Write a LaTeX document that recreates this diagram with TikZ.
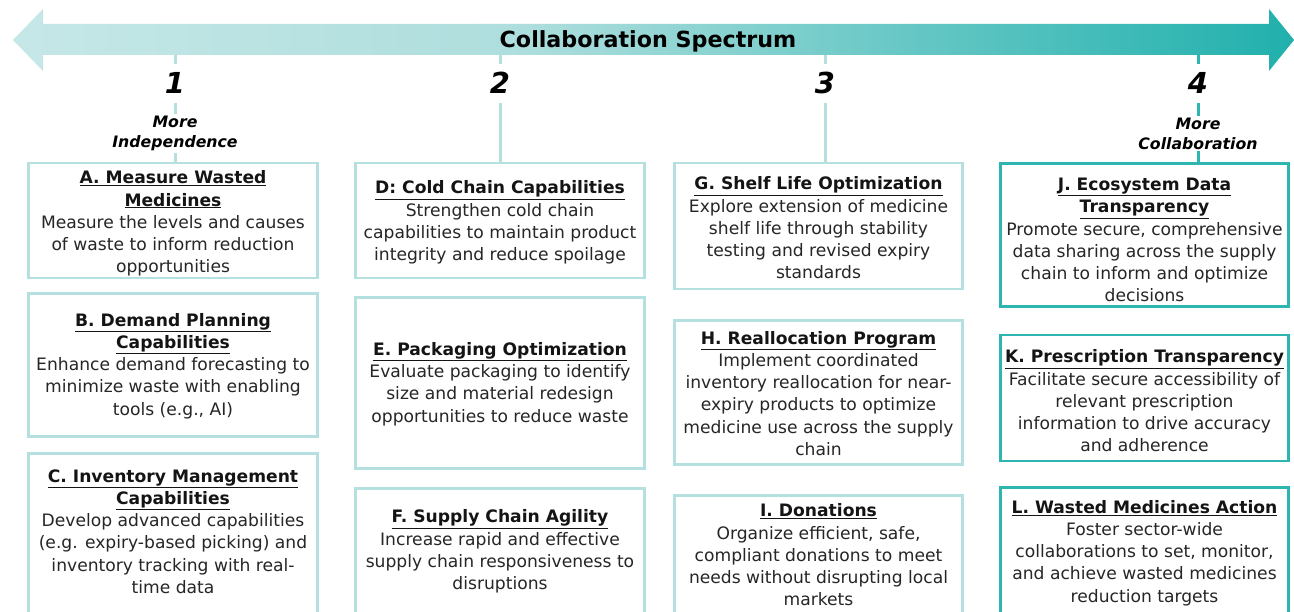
\documentclass[tikz,border=0pt]{standalone}
\usepackage{fontspec}
\setmainfont{DejaVu Sans}

\definecolor{lightteal}{HTML}{B5E0E0}
\definecolor{darkteal}{HTML}{2DB5B1}
\definecolor{bodytext}{HTML}{262626}
\definecolor{headtext}{HTML}{141414}
\definecolor{specA}{HTML}{C6E7E7}
\definecolor{specB}{HTML}{ADDEDD}
\definecolor{specC}{HTML}{20B0AD}
% TikZ maps a path onto the 25bp..75bp band of a 100bp shading
\pgfdeclarehorizontalshading{spectrum}{100bp}{color(0bp)=(specA); color(25bp)=(specA);
  color(45bp)=(specB); color(75bp)=(specC); color(100bp)=(specC)}

\newcommand{\cardhead}[1]{{\color{headtext}\bfseries\underline{#1}}}

\tikzset{
  card/.style={draw=lightteal, line width=2.5bp, fill=white, inner sep=0pt},
  keycard/.style={card, draw=darkteal},
  cardtext/.style={align=center, text=bodytext, inner sep=0pt,
    font=\fontsize{17.2}{22.3}\selectfont},
  tick/.style={draw=lightteal, line width=3bp},
  keytick/.style={tick, draw=darkteal},
  stepnum/.style={fill=white, inner xsep=4bp, inner ysep=9bp,
    font=\fontsize{29}{30}\selectfont\bfseries\itshape},
  endlabel/.style={fill=white, align=center, inner xsep=3bp, inner ysep=2bp,
    font=\fontsize{15.8}{20}\selectfont\bfseries\itshape}
}

\begin{document}
\begin{tikzpicture}[x=1bp, y=-1bp]
\clip (0,0) rectangle (1294,612);
\fill[white] (0,0) rectangle (1294,612);

% double-headed spectrum arrow
\shade[shading=spectrum]
  (13,40) -- (43,9) -- (43,24) -- (1269,24) -- (1269,9) -- (1294,40)
  -- (1269,71) -- (1269,55) -- (43,55) -- (43,71) -- cycle;
\node[anchor=base, font=\fontsize{22.3}{24}\selectfont\bfseries] (title)
  at (648,48) {Collaboration Spectrum};

% anchor points of the ticks on the arrow
\coordinate (t1) at (175,55);
\coordinate (t2) at (500,55);
\coordinate (t3) at (825,55);
\coordinate (t4) at (1198,55);

% column 1
\node[card, minimum width=290, minimum height=115] (boxA) at (173,220.5) {};
\node[card, minimum width=290, minimum height=144] (boxB) at (173,365) {};
\node[card, minimum width=290, minimum height=187] (boxC) at (173,546.5) {};
% column 2
\node[card, minimum width=290, minimum height=115] (boxD) at (500,220.5) {};
\node[card, minimum width=290, minimum height=172] (boxE) at (500,383) {};
\node[card, minimum width=290, minimum height=152] (boxF) at (500,564) {};
% column 3
\node[card, minimum width=289, minimum height=126] (boxG) at (818.5,226) {};
\node[card, minimum width=289, minimum height=145] (boxH) at (818.5,392.5) {};
\node[card, minimum width=289, minimum height=145] (boxI) at (818.5,567.5) {};
% column 4
\node[keycard, minimum width=289, minimum height=144] (boxJ) at (1144.5,235) {};
\node[keycard, minimum width=289, minimum height=126] (boxK) at (1144.5,398) {};
\node[keycard, minimum width=289, minimum height=153] (boxL) at (1144.5,563.5) {};

% ticks from the arrow down to the first card of each column
\draw[tick] (t1) -- (t1 |- boxA.north);
\draw[tick] (t2) -- (t2 |- boxD.north);
\draw[tick] (t3) -- (t3 |- boxG.north);
\draw[keytick] (t4) -- (t4 |- boxJ.north);

% step numbers and end labels
\node[stepnum, anchor=base] (n1) at (175,94) {1};
\node[stepnum, anchor=base] (n2) at (500,94) {2};
\node[stepnum, anchor=base] (n3) at (825,94) {3};
\node[stepnum, anchor=base] (n4) at (1198,94) {4};
\node[endlabel] (indep) at (175,133.5) {More\\Independence};
\node[endlabel] (collab) at (1198,133.5) {More\\Collaboration};

% card texts
\node[cardtext, yshift=-3bp] (A) at (boxA.center) {\cardhead{A. Measure Wasted}\\\cardhead{Medicines}\\
  Measure the levels and causes\\of waste to inform reduction\\opportunities};
\node[cardtext, yshift=-1bp] (B) at (boxB.center) {\cardhead{B. Demand Planning}\\\cardhead{Capabilities}\\
  Enhance demand forecasting to\\minimize waste with enabling\\tools (e.g., AI)};
\node[cardtext] (C) at (173,531.5) {\cardhead{C. Inventory Management}\\\cardhead{Capabilities}\\
  Develop advanced capabilities\\(e.g. expiry-based picking) and\\inventory tracking with real-\\time data};

\node[cardtext, yshift=-2bp] (D) at (boxD.center) {\cardhead{D: Cold Chain Capabilities}\\
  Strengthen cold chain\\capabilities to maintain product\\integrity and reduce spoilage};
\node[cardtext, yshift=-1bp] (E) at (boxE.center) {\cardhead{E. Packaging Optimization}\\
  Evaluate packaging to identify\\size and material redesign\\opportunities to reduce waste};
\node[cardtext] (F) at (500,551.5) {\cardhead{F. Supply Chain Agility}\\
  Increase rapid and effective\\supply chain responsiveness to\\disruptions};

\node[cardtext, yshift=-2bp] (G) at (boxG.center) {\cardhead{G. Shelf Life Optimization}\\
  Explore extension of medicine\\shelf life through stability\\testing and revised expiry\\standards};
\node[cardtext, yshift=-1bp] (H) at (boxH.center) {\cardhead{H. Reallocation Program}\\
  Implement coordinated\\inventory reallocation for near-\\expiry products to optimize\\medicine use across the supply\\chain};
\node[cardtext] (I) at (818.5,555) {\cardhead{I. Donations}\\
  Organize efficient, safe,\\compliant donations to meet\\needs without disrupting local\\markets};

\node[cardtext, yshift=-5bp] (J) at (boxJ.center) {\cardhead{J. Ecosystem Data}\\\cardhead{Transparency}\\
  Promote secure, comprehensive\\data sharing across the supply\\chain to inform and optimize\\decisions};
\node[cardtext, yshift=-3bp] (K) at (boxK.center) {\cardhead{K. Prescription Transparency}\\
  Facilitate secure accessibility of\\relevant prescription\\information to drive accuracy\\and adherence};
\node[cardtext] (L) at (1144.5,553) {\cardhead{L. Wasted Medicines Action}\\
  Foster sector-wide\\collaborations to set, monitor,\\and achieve wasted medicines\\reduction targets};
\end{tikzpicture}
\end{document}
